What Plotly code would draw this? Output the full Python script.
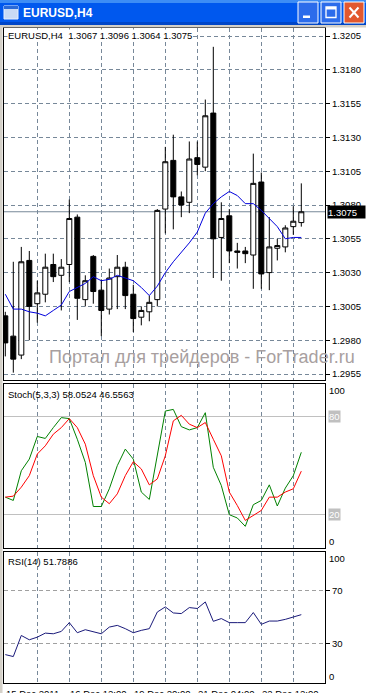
import plotly.graph_objects as go

W, H = 366, 693

# ---------------- data ----------------
bars = list(range(38))
opens = [1.2998, 1.2983, 1.2969, 1.3039, 1.3007, 1.3014, 1.3036, 1.3028, 1.3036, 1.3071,
         1.3010, 1.3042, 1.3017, 1.3003, 1.3027, 1.3034, 1.3014, 1.2997, 1.3001, 1.3010,
         1.3077, 1.3113, 1.3086, 1.3082, 1.3115, 1.3108, 1.3148, 1.3056, 1.3072, 1.3046,
         1.3046, 1.3043, 1.3097, 1.3030, 1.3048, 1.3049, 1.3064, 1.3067]
highs = [1.3001, 1.3038, 1.3049, 1.3046, 1.3024, 1.3044, 1.3044, 1.3040, 1.3084, 1.3073,
         1.3028, 1.3043, 1.3025, 1.3033, 1.3043, 1.3038, 1.3021, 1.3005, 1.3013, 1.3077,
         1.3123, 1.3132, 1.3090, 1.3127, 1.3127, 1.3158, 1.3197, 1.3082, 1.3077, 1.3052,
         1.3049, 1.3118, 1.3104, 1.3071, 1.3055, 1.3065, 1.3079, 1.3096]
lows = [1.2968, 1.2956, 1.2966, 1.2980, 1.2993, 1.3008, 1.3023, 1.3002, 1.3023, 1.2995,
        1.3005, 1.3007, 1.2983, 1.2999, 1.3003, 1.3003, 1.2986, 1.2991, 1.2994, 1.3005,
        1.3059, 1.3062, 1.3071, 1.3074, 1.3102, 1.3105, 1.3026, 1.3024, 1.3037, 1.3033,
        1.3037, 1.3018, 1.3018, 1.3017, 1.3039, 1.3045, 1.3058, 1.3064]
closes = [1.2978, 1.2966, 1.3038, 1.3005, 1.3015, 1.3034, 1.3027, 1.3034, 1.3070, 1.3011,
          1.3024, 1.3016, 1.3002, 1.3026, 1.3034, 1.3013, 1.2996, 1.3002, 1.3008, 1.3076,
          1.3112, 1.3086, 1.3080, 1.3114, 1.3110, 1.3146, 1.3055, 1.3070, 1.3046, 1.3045,
          1.3044, 1.3096, 1.3029, 1.3049, 1.3050, 1.3063, 1.3068, 1.3075]
ma = [1.3014, 1.3003, 1.3003, 1.3001, 1.3000, 1.2998, 1.3002, 1.3006, 1.3016, 1.3019,
      1.3022, 1.3027, 1.3024, 1.3025, 1.3028, 1.3026, 1.3024, 1.3019, 1.3013, 1.3020,
      1.3030, 1.3038, 1.3045, 1.3052, 1.3060, 1.3074, 1.3081, 1.3086, 1.3090, 1.3087,
      1.3081, 1.3081, 1.3076, 1.3070, 1.3064, 1.3055, 1.3056, 1.3056]
stoch_k = [30.7, 28.7, 46.8, 53.9, 67.7, 66.5, 73.1, 79.2, 78.6, 66.0,
           51.9, 25.0, 25.0, 35.8, 49.9, 60.0, 53.9, 33.8, 29.3, 56.0,
           83.2, 84.2, 73.7, 71.7, 73.1, 82.2, 48.9, 37.8, 20.0, 18.0,
           12.9, 26.1, 28.7, 38.2, 25.3, 36.2, 43.8, 58.0524]
stoch_d = [30.7, 31.3, 36.8, 43.8, 57.0, 62.0, 69.1, 73.1, 78.6, 73.1,
           63.0, 43.8, 30.7, 26.7, 32.7, 43.8, 52.3, 47.9, 38.2, 41.8,
           55.9, 77.2, 80.6, 75.2, 73.1, 76.2, 66.0, 55.9, 33.8, 25.6,
           16.5, 19.6, 22.6, 30.7, 30.7, 33.8, 35.8, 46.5563]
rsi = [21.3, 19.8, 35.9, 32.6, 34.6, 37.7, 37.2, 39.0, 45.7, 38.0,
       40.3, 39.0, 37.2, 42.3, 43.6, 41.1, 38.0, 39.8, 41.1, 53.8,
       57.7, 53.1, 52.6, 57.2, 56.5, 61.5, 46.7, 48.8, 45.7, 45.7,
       45.7, 53.4, 44.4, 46.9, 46.9, 48.2, 49.8, 51.7886]

price_ticks = [1.2955, 1.2980, 1.3005, 1.3030, 1.3055, 1.3080, 1.3105, 1.3130, 1.3155, 1.3180, 1.3205]
grid_bars = [4, 8, 12, 16, 20, 24, 28, 32, 36]
label_bars = [0, 8, 16, 24, 32]
label_texts = ["15 Dec 2011", "16 Dec 12:00", "19 Dec 20:00", "21 Dec 04:00", "22 Dec 12:00"]
stoch_levels = [20, 80]
rsi_levels = [30, 70]

symbol = "EURUSD,H4"
watermark = "Портал для трейдеров - ForTrader.ru"

# ---------------- helpers ----------------
def px(v):
    return v / W

def py(v):
    return 1 - v / H

FONT = "Liberation Sans, Arial, sans-serif"
FS = 9.5
GRID = "#778899"

fig = go.Figure()

fig.add_trace(go.Candlestick(
    x=bars, open=opens, high=highs, low=lows, close=closes,
    increasing=dict(line=dict(color="black", width=1), fillcolor="white"),
    decreasing=dict(line=dict(color="black", width=1), fillcolor="black"),
    whiskerwidth=0, xaxis="x", yaxis="y", showlegend=False, hoverinfo="skip"))
fig.add_trace(go.Scatter(x=bars, y=ma, mode="lines", line=dict(color="#0000DD", width=1),
                         xaxis="x", yaxis="y", showlegend=False, hoverinfo="skip"))
fig.add_trace(go.Scatter(x=bars, y=stoch_k, mode="lines", line=dict(color="#008000", width=1),
                         xaxis="x2", yaxis="y2", showlegend=False, hoverinfo="skip"))
fig.add_trace(go.Scatter(x=bars, y=stoch_d, mode="lines", line=dict(color="#FF0000", width=1),
                         xaxis="x2", yaxis="y2", showlegend=False, hoverinfo="skip"))
fig.add_trace(go.Scatter(x=bars, y=rsi, mode="lines", line=dict(color="#1A1A7A", width=1),
                         xaxis="x3", yaxis="y3", showlegend=False, hoverinfo="skip"))

xrange = [-0.1625, 39.9625]

def xax(anchor):
    return dict(range=xrange, domain=[px(4), px(325)], anchor=anchor,
                tickmode="array", tickvals=grid_bars, showticklabels=False, ticks="",
                showgrid=True, gridcolor=GRID, griddash="4px,3px", gridwidth=1,
                zeroline=False, showline=True, mirror=True, linecolor="black", linewidth=1,
                fixedrange=True, rangeslider=dict(visible=False))

fig.update_layout(
    width=W, height=H, autosize=False,
    margin=dict(l=0, r=0, t=0, b=0, pad=0),
    paper_bgcolor="white", plot_bgcolor="white",
    showlegend=False,
    font=dict(family=FONT, size=FS, color="black"),
    boxgap=0.375, boxgroupgap=0,
    xaxis=xax("y"),
    xaxis2=dict(xax("y2"), matches="x"),
    xaxis3=dict(xax("y3"), matches="x"),
    yaxis=dict(domain=[py(380), py(28)], range=[1.295056, 1.321092], anchor="x", side="right",
               tickmode="array", tickvals=price_ticks, ticktext=[f"{v:.4f}" for v in price_ticks],
               ticks="outside", ticklen=4, tickcolor="black", tickfont=dict(size=FS, family=FONT),
               showgrid=True, gridcolor=GRID, griddash="4px,3px", zeroline=False,
               showline=True, mirror=True, linecolor="black", linewidth=1, fixedrange=True),
    yaxis2=dict(domain=[py(547.5), py(383.5)], range=[0, 100], anchor="x2", side="right",
                tickmode="array", tickvals=stoch_levels, showticklabels=False, ticks="",
                showgrid=True, gridcolor="#C0C0C0", zeroline=False,
                showline=True, mirror=True, linecolor="black", linewidth=1, fixedrange=True),
    yaxis3=dict(domain=[py(682.5), py(551.5)], range=[0, 100], anchor="x3", side="right",
                tickmode="array", tickvals=rsi_levels, ticktext=[str(v) for v in rsi_levels],
                ticks="outside", ticklen=4, tickcolor="black", tickfont=dict(size=FS, family=FONT),
                showgrid=True, gridcolor="#A0A0A0", griddash="4px,3px", zeroline=False,
                showline=True, mirror=True, linecolor="black", linewidth=1, fixedrange=True),
)

shapes = []
# current price line
shapes.append(dict(type="line", xref="paper", yref="y", x0=px(4), x1=px(325),
                   y0=closes[-1], y1=closes[-1], line=dict(color="#778899", width=1), layer="below"))
# window chrome: title bar
shapes.append(dict(type="rect", xref="paper", yref="paper", x0=0, x1=1, y0=py(25), y1=1,
                   fillcolor="#0058EE", line=dict(width=0), layer="above"))
shapes.append(dict(type="rect", xref="paper", yref="paper", x0=0, x1=1, y0=py(3), y1=1,
                   fillcolor="#3D8DF5", line=dict(width=0), layer="above"))
shapes.append(dict(type="rect", xref="paper", yref="paper", x0=0, x1=1, y0=py(25), y1=py(22),
                   fillcolor="#0046C8", line=dict(width=0), layer="above"))
# frame below title bar and at left
shapes.append(dict(type="rect", xref="paper", yref="paper", x0=0, x1=1, y0=py(27.5), y1=py(25),
                   fillcolor="#D4D0C8", line=dict(width=0), layer="above"))
shapes.append(dict(type="rect", xref="paper", yref="paper", x0=0, x1=px(2.5), y0=0, y1=py(25),
                   fillcolor="#D4D0C8", line=dict(width=0), layer="above"))
# icon
shapes.append(dict(type="rect", xref="paper", yref="paper", x0=px(4), x1=px(18), y0=py(19), y1=py(6),
                   fillcolor="#C9DAF5", line=dict(color="#E8F0FF", width=1), layer="above"))
shapes.append(dict(type="rect", xref="paper", yref="paper", x0=px(4), x1=px(18), y0=py(9), y1=py(6),
                   fillcolor="#2A6AD8", line=dict(width=0), layer="above"))
# buttons
for x0, fill in [(298, "#2C6CEB"), (321, "#2C6CEB"), (344, "#E2582F")]:
    shapes.append(dict(type="rect", xref="paper", yref="paper", x0=px(x0), x1=px(x0 + 20),
                       y0=py(23), y1=py(2), fillcolor=fill, line=dict(color="white", width=1),
                       layer="above"))
shapes.append(dict(type="rect", xref="paper", yref="paper", x0=px(303), x1=px(310), y0=py(18), y1=py(15.5),
                   fillcolor="white", line=dict(width=0), layer="above"))
shapes.append(dict(type="rect", xref="paper", yref="paper", x0=px(326), x1=px(336), y0=py(17.5), y1=py(7),
                   fillcolor="rgba(0,0,0,0)", line=dict(color="white", width=1.3), layer="above"))
shapes.append(dict(type="rect", xref="paper", yref="paper", x0=px(326), x1=px(336), y0=py(9.5), y1=py(7),
                   fillcolor="white", line=dict(width=0), layer="above"))
shapes.append(dict(type="line", xref="paper", yref="paper", x0=px(349.5), x1=px(358.5), y0=py(7.5), y1=py(17.5),
                   line=dict(color="white", width=2), layer="above"))
shapes.append(dict(type="line", xref="paper", yref="paper", x0=px(358.5), x1=px(349.5), y0=py(7.5), y1=py(17.5),
                   line=dict(color="white", width=2), layer="above"))

ann = []
ann.append(dict(text="<b>" + symbol + "</b>", xref="paper", yref="paper", x=px(21), y=py(12.5),
                xanchor="left", yanchor="middle", showarrow=False,
                font=dict(family=FONT, size=12, color="white")))
ann.append(dict(text=f"{symbol}\u00a0 {opens[-1]:.4f} {highs[-1]:.4f} {lows[-1]:.4f} {closes[-1]:.4f}",
                xref="paper", yref="paper", x=px(6.5), y=py(35.5), xanchor="left", yanchor="middle",
                showarrow=False, bgcolor="white", borderpad=0, font=dict(size=FS)))
ann.append(dict(text=f"Stoch(5,3,3) {stoch_k[-1]:.4f} {stoch_d[-1]:.4f}",
                xref="paper", yref="paper", x=px(6.5), y=py(394), xanchor="left", yanchor="middle",
                showarrow=False, borderpad=0, font=dict(size=FS)))
ann.append(dict(text=f"RSI(14) {rsi[-1]:.4f}",
                xref="paper", yref="paper", x=px(6.5), y=py(561), xanchor="left", yanchor="middle",
                showarrow=False, borderpad=0, font=dict(size=FS)))
# current price box
ann.append(dict(text=f"{closes[-1]:.4f}", xref="paper", yref="y", x=px(326.5), y=closes[-1],
                xanchor="left", yanchor="middle", showarrow=False, bgcolor="black",
                font=dict(color="white", size=FS), width=37, height=12, align="left", borderpad=0))
# stoch scale labels
ann.append(dict(text="100", xref="paper", yref="y2", x=px(328), y=100, xanchor="left", yanchor="top",
                showarrow=False, borderpad=0, font=dict(size=FS)))
ann.append(dict(text="0", xref="paper", yref="y2", x=px(328), y=0, xanchor="left", yanchor="bottom",
                showarrow=False, borderpad=0, font=dict(size=FS)))
for lv in stoch_levels:
    ann.append(dict(text=str(lv), xref="paper", yref="y2", x=px(327.5), y=lv, xanchor="left",
                    yanchor="middle", showarrow=False, bgcolor="#C0C0C0", borderpad=0,
                    font=dict(size=FS, color="white")))
# rsi scale labels
ann.append(dict(text="100", xref="paper", yref="y3", x=px(328), y=100, xanchor="left", yanchor="top",
                showarrow=False, borderpad=0, font=dict(size=FS)))
ann.append(dict(text="0", xref="paper", yref="y3", x=px(328), y=0, xanchor="left", yanchor="bottom",
                showarrow=False, borderpad=0, font=dict(size=FS)))
# time labels
for b, t in zip(label_bars, label_texts):
    ann.append(dict(text=t, xref="x3", yref="paper", x=b, y=py(686.5), xanchor="left", yanchor="top",
                    showarrow=False, borderpad=0, font=dict(size=FS)))
# watermark
ann.append(dict(text=watermark, xref="paper", yref="paper", x=px(47), y=py(357), xanchor="left",
                yanchor="middle", showarrow=False, font=dict(size=18, color="#A89F9F")))

fig.update_layout(shapes=shapes, annotations=ann)

fig.write_html("out.html", config={"displayModeBar": False, "staticPlot": True})
